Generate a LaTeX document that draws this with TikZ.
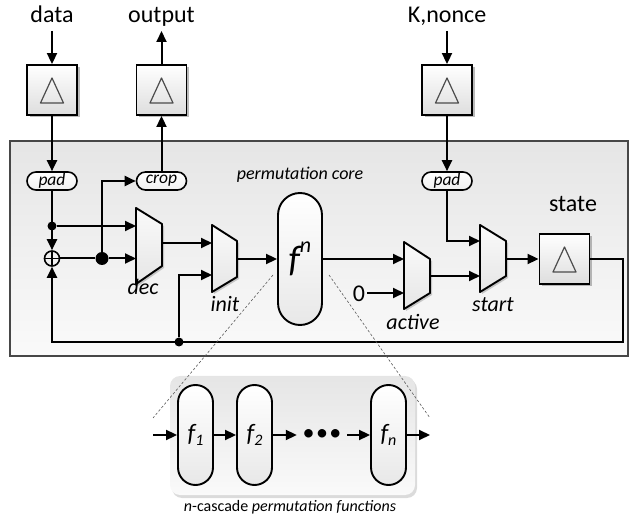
\documentclass[tikz,border=0pt]{standalone}
\usepackage{fontspec}
\setmainfont{Carlito}
\usetikzlibrary{arrows.meta}
\usetikzlibrary{shadows}

\tikzset{
  wire/.style={line width=2pt},
  reg/.style={draw, line width=1.9pt, minimum size=50pt, inner sep=0pt,
    top color=white, bottom color=black!13,
    drop shadow={shadow xshift=2.5pt, shadow yshift=-2.5pt, fill=black!45, opacity=0.6},
    path picture={\draw[black!70, line width=1.2pt, line join=round]
      ([yshift=12pt]path picture bounding box.center)
      -- ([xshift=11.5pt,yshift=-13pt]path picture bounding box.center)
      -- ([xshift=-11.5pt,yshift=-13pt]path picture bounding box.center) -- cycle;}},
  mux/.style={draw, line width=1.9pt, line join=round, top color=black!2, bottom color=black!10,
    drop shadow={shadow xshift=2pt, shadow yshift=-2pt, fill=black!40, opacity=0.5}},
  port/.style={draw, line width=1.6pt, rounded corners=9pt, minimum width=50pt, minimum height=18pt,
    inner sep=0pt, top color=white, bottom color=black!6, font=\itshape\fontsize{17.5}{18}\selectfont},
  pill/.style={draw, line width=1.9pt, inner sep=0pt, top color=white, bottom color=black!9},
  dot/.style={circle, fill=black, inner sep=0pt, minimum size=9pt},
  xor/.style={circle, draw, line width=1.6pt, inner sep=0pt, minimum size=15pt,
    path picture={\draw[line width=1.6pt]
      (path picture bounding box.north) -- (path picture bounding box.south)
      (path picture bounding box.west) -- (path picture bounding box.east);}},
  big/.style={font=\fontsize{24}{28}\selectfont, text height=17pt, text depth=6pt, inner sep=2pt},
  mid/.style={font=\itshape\fontsize{22}{24}\selectfont},
  note/.style={font=\itshape\fontsize{18}{20}\selectfont},
  captxt/.style={font=\fontsize{16}{18}\selectfont},
  zoomline/.style={black!65, line width=0.6pt, dash pattern=on 2.5pt off 2pt}
}

\begin{document}
\begin{tikzpicture}[x=1pt, y=-1pt, >={Triangle[length=11pt,width=10pt]}]
\useasboundingbox (0,0) rectangle (632,518);

% core region and cascade region
\draw[draw=black!72, line width=1.6pt, top color=black!10, bottom color=black!2] (10,141) rectangle (628,356);
\node[rounded corners=10pt, minimum width=245pt, minimum height=119pt, top color=black!10, bottom color=black!2,
  drop shadow={shadow xshift=2pt, shadow yshift=-3pt, fill=black!20, opacity=0.7}] (casc) at (292.5,435.5) {};

% registers
\node[reg] (regData) at (52,90) {};
\node[reg] (regOut) at (161.5,90) {};
\node[reg] (regKey) at (447,90) {};
\node[reg] (regState) at (564.5,259) {};

\node[big, anchor=south] (txtData) at (52,31) {data};
\node[big, anchor=south] (txtOut) at (161.5,31) {output};
\node[big, anchor=south] (txtKey) at (447,31) {K,nonce};
\node[big, anchor=south] (txtState) at (573,220) {state};

\node[port] (padL) at (52,181) {pad};
\node[port] (crop) at (161.5,181) {crop};
\node[port] (padR) at (447,181) {pad};

% muxes
\draw[mux] (136,208) -- (162,224) -- (162,266) -- (136,284) -- cycle;
\draw[mux] (212,225) -- (237,241) -- (237,277) -- (212,292) -- cycle;
\draw[mux] (404,242) -- (430,259) -- (430,293) -- (404,309) -- cycle;
\draw[mux] (480,225) -- (506,241) -- (506,276) -- (480,292) -- cycle;
\coordinate (dec-a) at (136,226);
\coordinate (dec-b) at (136,258.5);
\coordinate (dec-o) at (162,243);
\coordinate (init-a) at (212,243);
\coordinate (init-b) at (212,275);
\coordinate (init-o) at (237,259);
\coordinate (act-a) at (404,259);
\coordinate (act-b) at (404,293);
\coordinate (act-o) at (430,276);
\coordinate (st-a) at (480,241);
\coordinate (st-b) at (480,276);
\coordinate (st-o) at (506,259);

\node[mid, anchor=base] (lblDec) at (143,295) {dec};
\node[mid, anchor=base] (lblInit) at (225,312) {init};
\node[mid, anchor=base] (lblAct) at (413,330) {active};
\node[mid, anchor=base] (lblStart) at (493,312) {start};
\node[note, anchor=base] (lblCore) at (300,180) {permutation core};

\node[pill, minimum width=44pt, minimum height=132pt, rounded corners=22pt,
  font=\itshape\fontsize{37}{37}\selectfont] (fN) at (300,259)
  {f\raisebox{0.5em}{\fontsize{22}{22}\selectfont n}};
\node[font=\fontsize{24}{24}\selectfont, inner sep=2pt] (zero) at (359,294) {0};

\node[xor] (xor) at (52,258.5) {};
\node[dot] (dA) at (52,226) {};
\node[dot, minimum size=13pt] (dB) at (102,258.5) {};
\node[dot] (dF) at (179,342) {};
\coordinate (fbR) at (623,342);
\coordinate (fbL) at (52,342);

% wires
\begin{scope}[wire]
  \draw[->] (txtData.south) -- (regData.north);
  \draw[->] (regData.south) -- (padL.north);
  \draw[->] (padL.south) -- (xor.north);
  \draw[->] (dA) -- (dec-a);
  \draw[->] (xor.east) -- (dB) -- (dec-b);
  \draw[->] (dB) |- (crop.west);
  \draw[->] (crop.north) -- (regOut.south);
  \draw[->] (regOut.north) -- (txtOut.south);
  \draw[->] (txtKey.south) -- (regKey.north);
  \draw[->] (regKey.south) -- (padR.north);
  \draw[->] (dec-o) -- (init-a);
  \draw[->] (dF) |- (init-b);
  \draw[->] (init-o) -- (fN.west);
  \draw[->] (fN.east |- act-a) -- (act-a);
  \draw[->] (zero.east |- act-b) -- (act-b);
  \draw[->] (act-o) -- (st-b);
  \draw[->] (padR.south) |- (st-a);
  \draw[->] (st-o) -- (regState.west);
  \draw[->] (regState.east) -| (fbR) -- (fbL) -- (xor.south);
\end{scope}

% n-cascade
\node[pill, minimum width=35pt, minimum height=100pt, rounded corners=17.5pt,
  font=\itshape\fontsize{25}{25}\selectfont] (f1) at (195.5,435)
  {f\raisebox{-0.15em}{\fontsize{16}{16}\selectfont 1}};
\node[pill, minimum width=35pt, minimum height=100pt, rounded corners=17.5pt,
  font=\itshape\fontsize{25}{25}\selectfont] (f2) at (254.5,435)
  {f\raisebox{-0.15em}{\fontsize{16}{16}\selectfont 2}};
\node[pill, minimum width=35pt, minimum height=100pt, rounded corners=17.5pt,
  font=\itshape\fontsize{25}{25}\selectfont] (fn) at (388.5,435)
  {f\raisebox{-0.15em}{\fontsize{16}{16}\selectfont n}};
\node[minimum width=50pt, inner sep=0pt, font=\fontsize{24}{24}\selectfont] (dots) at (322,435)
  {\textbullet\hspace{1.5pt}\textbullet\hspace{1.5pt}\textbullet};
\coordinate (cIn) at (153,435);
\coordinate (cOut) at (430,435);
\begin{scope}[wire]
  \draw[->] (cIn) -- (f1.west);
  \draw[->] (f1.east) -- (f2.west);
  \draw[->] (f2.east) -- (dots.west);
  \draw[->] (dots.east) -- (fn.west);
  \draw[->] (fn.east) -- (cOut);
\end{scope}
\node[captxt, anchor=base] (lblCasc) at (290,511) {\textit{n}-cascade \textit{permutation functions}};

% zoom lines
\coordinate (zA) at (273,275);
\coordinate (zB) at (153,418);
\coordinate (zC) at (329,275);
\coordinate (zD) at (430,418);
\draw[zoomline] (zA) -- (zB);
\draw[zoomline] (zC) -- (zD);
\end{tikzpicture}
\end{document}
